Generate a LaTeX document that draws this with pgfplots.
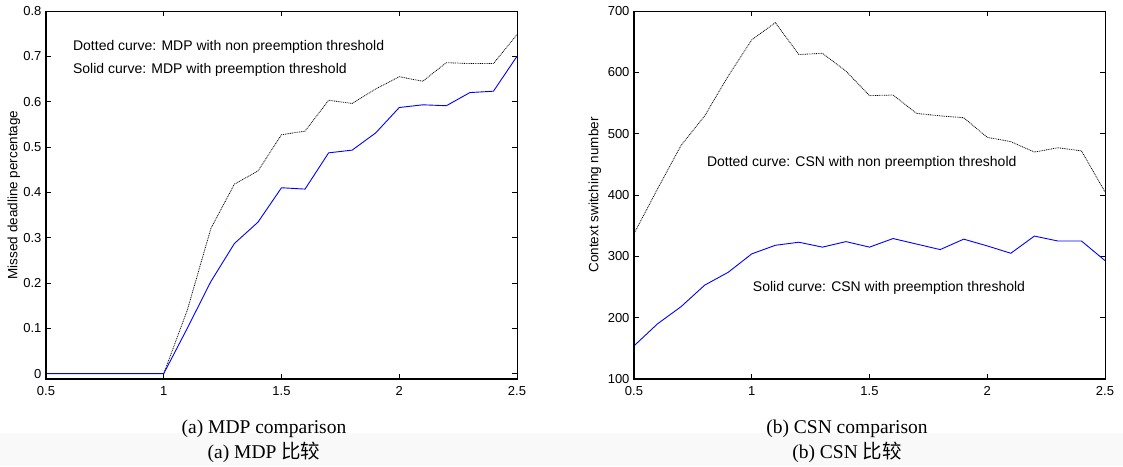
\documentclass[border=0pt]{standalone}
\usepackage{fontspec}
\setmainfont{Liberation Serif}
\setsansfont{Liberation Sans}
\newfontfamily\cjk{Noto Sans CJK SC}
\usepackage{pgfplots}
\pgfplotsset{compat=1.18}

% x = 0.5:0.1:2.5
\pgfplotstableread{
x    nopt   pt
0.5  0      0
0.6  0      0
0.7  0      0
0.8  0      0
0.9  0      0
1.0  0      0
1.1  0.140  0.100
1.2  0.320  0.203
1.3  0.418  0.287
1.4  0.447  0.334
1.5  0.527  0.410
1.6  0.535  0.407
1.7  0.603  0.487
1.8  0.596  0.493
1.9  0.628  0.531
2.0  0.655  0.587
2.1  0.645  0.593
2.2  0.686  0.591
2.3  0.684  0.620
2.4  0.684  0.623
2.5  0.748  0.700
}\mdp

\pgfplotstableread{
x    nopt  pt
0.5  337   154
0.6  410   190
0.7  481   218
0.8  529   253
0.9  594   274
1.0  653   304
1.1  681   318
1.2  629   323
1.3  631   315
1.4  602   324
1.5  562   315
1.6  563   329
1.7  533   320
1.8  529   311
1.9  526   328
2.0  494   317
2.1  487   305
2.2  470   333
2.3  477   325
2.4  472   325
2.5  405   293
}\csn

\pgfplotsset{
  matfig/.style={
    scale only axis, width=471pt, height=368pt,
    xmin=0.5, xmax=2.5, xtick={0.5,1,1.5,2,2.5},
    tick align=inside, major tick length=5pt,
    axis line style={line width=0.6pt},
    tick style={black, line width=0.6pt},
    ticklabel style={font=\fontsize{13}{15}\sffamily},
    xticklabel style={yshift=-4pt},
    yticklabel style={xshift=-1pt},
    /pgf/number format/assume math mode=true,
    label style={font=\fontsize{13.5}{15}\sffamily},
    clip=false,
  },
  nopt/.style={black, line width=0.8pt, dash pattern=on 0.9pt off 0.9pt},
  pt/.style={blue, line width=0.9pt},
}

\begin{document}
\begin{tikzpicture}
\path[use as bounding box] (0,0) rectangle (1123pt,466pt);
\fill[gray!5] (0,0) rectangle (1123pt,33pt);

\begin{axis}[matfig,
  at={(46pt,87pt)}, anchor=south west,
  ymin=-0.012, ymax=0.8,
  ytick={0,0.1,...,0.8},
  ylabel={Missed deadline percentage},
  ylabel style={at={(axis description cs:-0.068,0.5)}, anchor=center},
]
\addplot[nopt] table[x=x, y=nopt] {\mdp};
\addplot[pt] table[x=x, y=pt] {\mdp};
\node[anchor=west, font=\fontsize{14}{16}\sffamily] at (axis cs:0.600,0.721) {Dotted curve: MDP with non preemption threshold};
\node[anchor=west, font=\fontsize{14}{16}\sffamily] at (axis cs:0.600,0.670) {Solid curve: MDP with preemption threshold};
\draw[line width=1.8pt] (rel axis cs:0,1) -- (rel axis cs:0,0) -- (rel axis cs:1,0);
\end{axis}

\begin{axis}[matfig,
  at={(634pt,87pt)}, anchor=south west,
  ymin=100, ymax=700,
  ytick={100,200,...,700},
  ylabel={Context switching number},
  ylabel style={at={(axis description cs:-0.083,0.5)}, anchor=center},
]
\addplot[nopt] table[x=x, y=nopt] {\csn};
\addplot[pt] table[x=x, y=pt] {\csn};
\node[anchor=west, font=\fontsize{14}{16}\sffamily] at (axis cs:0.795,452) {Dotted curve: CSN with non preemption threshold};
\node[anchor=west, font=\fontsize{14}{16}\sffamily] at (axis cs:0.990,248) {Solid curve: CSN with preemption threshold};
\draw[line width=1.8pt] (rel axis cs:0,1) -- (rel axis cs:0,0) -- (rel axis cs:1,0);
\end{axis}

\node[font=\fontsize{19.5}{22}\rmfamily] at (264pt,37pt) {(a) MDP comparison};
\node[font=\fontsize{19.5}{22}\rmfamily] at (264pt,14pt) {(a) MDP {\cjk 比较}};
\node[font=\fontsize{19.5}{22}\rmfamily] at (847pt,37pt) {(b) CSN comparison};
\node[font=\fontsize{19.5}{22}\rmfamily] at (847pt,14pt) {(b) CSN {\cjk 比较}};
\end{tikzpicture}
\end{document}
